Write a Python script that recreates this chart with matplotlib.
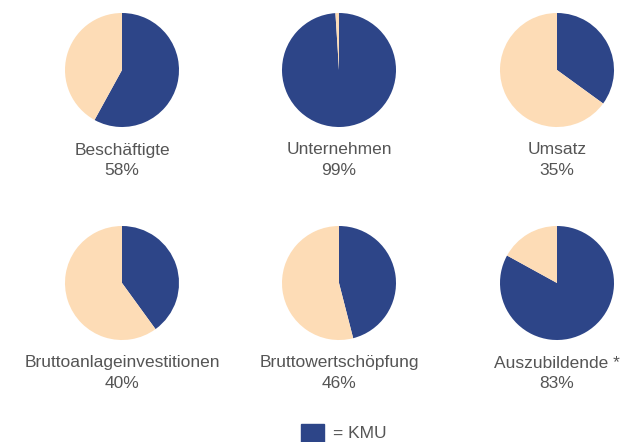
import matplotlib.pyplot as plt
from matplotlib.patches import Rectangle

labels = ["Beschäftigte", "Unternehmen", "Umsatz",
          "Bruttoanlageinvestitionen", "Bruttowertschöpfung", "Auszubildende *"]
kmu_share = [58, 99, 35, 40, 46, 83]
legend_label = "= KMU"

blue = "#2d4588"
peach = "#fddcb6"
text_col = "#555555"

plt.rcParams['font.family'] = ['Liberation Sans', 'DejaVu Sans']

fig = plt.figure(figsize=(6.21, 4.42), dpi=100)
ax = fig.add_axes([0, 0, 1, 1])

centers_x = [122, 339, 557]
centers_y = [70, 283]
radius = 57

for i, (lab, v) in enumerate(zip(labels, kmu_share)):
    cx = centers_x[i % 3]
    cy = centers_y[i // 3]
    # y axis is inverted, so counterclock=True draws clockwise on screen
    ax.pie([v, 100 - v], colors=[blue, peach], startangle=-90,
           counterclock=True, center=(cx, cy), radius=radius,
           wedgeprops=dict(linewidth=0), frame=True)
    ax.text(cx, cy + 80, lab, ha='center', va='center', fontsize=12.5, color=text_col)
    ax.text(cx, cy + 100.5, f"{v}%", ha='center', va='center', fontsize=12.5, color=text_col)

ax.set_xlim(0, 621)
ax.set_ylim(442, 0)
ax.set_aspect('equal')
ax.axis('off')

ax.add_patch(Rectangle((301, 424), 23, 18, color=blue, clip_on=False))
ax.text(333, 433, legend_label, ha='left', va='center', fontsize=12.5, color=text_col)

fig.savefig("out.png", dpi=100)
